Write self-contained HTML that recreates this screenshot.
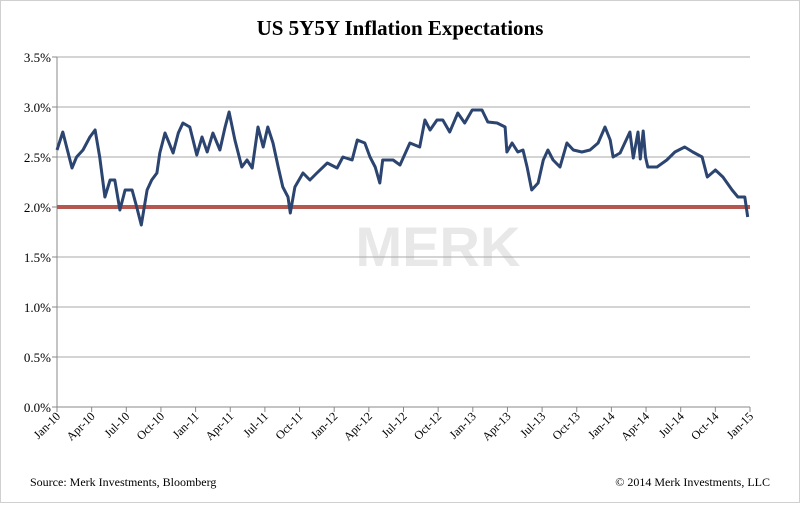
<!DOCTYPE html>
<html><head><meta charset="utf-8"><style>
body{margin:0;background:#fff}
svg text{font-family:"Liberation Serif",serif}
</style></head><body>
<svg width="800" height="503" xmlns="http://www.w3.org/2000/svg">
<rect x="0.5" y="0.5" width="799" height="502" fill="#fff" stroke="#d0d0d0"/>
<text x="400" y="35" text-anchor="middle" font-size="21" font-weight="bold">US 5Y5Y Inflation Expectations</text>
<text x="438" y="266" text-anchor="middle" font-size="56" font-weight="bold" fill="#e8e8e8" style="font-family:'Liberation Sans',sans-serif">MERK</text>
<g id="grid"></g>
<g id="yaxis"></g>
<g id="xaxis"></g>
<line id="ref" stroke="#b5574f" stroke-width="4"/>
<path id="series" fill="none" stroke="#2b4470" stroke-width="3" stroke-linejoin="round"/>
<text x="30" y="486" font-size="12">Source: Merk Investments, Bloomberg</text>
<text x="770" y="486" text-anchor="end" font-size="12">© 2014 Merk Investments, LLC</text>
</svg>
<script>
const yTicks=[0,0.5,1,1.5,2,2.5,3,3.5];
const xLabels=["Jan-10","Apr-10","Jul-10","Oct-10","Jan-11","Apr-11","Jul-11","Oct-11","Jan-12","Apr-12","Jul-12","Oct-12","Jan-13","Apr-13","Jul-13","Oct-13","Jan-14","Apr-14","Jul-14","Oct-14","Jan-15"];
const months=[0,0.5,0.9,1.3,1.7,2.25,2.85,3.3,3.7,4.15,4.6,5.0,5.45,5.9,6.5,6.9,7.3,7.8,8.2,8.65,8.9,9.35,9.6,10.05,10.5,10.9,11.5,12.1,12.55,13.0,13.5,14.1,14.55,14.9,15.4,16.0,16.45,16.9,17.4,17.85,18.25,18.7,19.15,19.55,20.0,20.2,20.6,21.3,21.9,22.5,23.4,24.25,24.75,25.55,26.0,26.65,27.1,27.55,27.95,28.2,29.1,29.7,30.55,31.4,31.85,32.3,32.9,33.4,34.0,34.7,35.3,35.95,36.8,37.3,38.1,38.8,38.95,39.4,39.9,40.35,40.7,41.1,41.65,42.1,42.5,42.95,43.55,44.15,44.7,45.45,46.15,46.85,47.45,47.9,48.15,48.75,49.6,49.9,50.3,50.5,50.75,50.95,51.15,51.95,52.8,53.5,54.35,55.05,55.85,56.3,57.0,57.65,58.45,58.95,59.55,59.8];
const values=[2.57,2.75,2.57,2.39,2.5,2.57,2.70,2.77,2.5,2.10,2.27,2.27,1.97,2.17,2.17,2.0,1.82,2.17,2.27,2.34,2.54,2.74,2.67,2.54,2.74,2.84,2.80,2.52,2.70,2.55,2.74,2.57,2.80,2.95,2.67,2.40,2.47,2.39,2.80,2.60,2.80,2.64,2.40,2.20,2.10,1.94,2.20,2.34,2.27,2.34,2.44,2.39,2.50,2.47,2.67,2.64,2.5,2.40,2.24,2.47,2.47,2.42,2.64,2.60,2.87,2.77,2.87,2.87,2.75,2.94,2.84,2.97,2.97,2.85,2.84,2.80,2.55,2.64,2.55,2.57,2.40,2.17,2.24,2.47,2.57,2.47,2.40,2.64,2.57,2.55,2.57,2.64,2.80,2.67,2.50,2.54,2.75,2.49,2.75,2.48,2.76,2.50,2.40,2.40,2.47,2.55,2.60,2.55,2.50,2.30,2.37,2.30,2.17,2.10,2.10,1.90];
const refValue=2.0;
const X0=57,X1=750,Y0=407,Y1=57,MMAX=60,VMAX=3.5;
const xs=m=>X0+(X1-X0)*m/MMAX;
const ys=v=>Y0-(Y0-Y1)*v/VMAX;
const NS="http://www.w3.org/2000/svg";
function mk(t,a,p){const e=document.createElementNS(NS,t);for(const k in a)e.setAttribute(k,a[k]);p.appendChild(e);return e;}
const grid=document.getElementById('grid'),ya=document.getElementById('yaxis'),xa=document.getElementById('xaxis');
yTicks.forEach(v=>{
  if(v>0){const g=mk('line',{x1:X0,x2:X1,y1:ys(v),y2:ys(v),stroke:'#a8a8a8','stroke-width':1},grid);
  
  }
  const tk=mk('line',{x1:X0-5,x2:X0,y1:ys(v),y2:ys(v),stroke:'#888'},ya);
  
  
  const t=mk('text',{x:X0-6,y:ys(v)+5,'text-anchor':'end','font-size':13},ya);
  t.textContent=v.toFixed(1)+'%';
  
  
});
const yl=mk('line',{x1:X0,x2:X0,y1:Y1,y2:Y0,stroke:'#888'},ya);


const xl=mk('line',{x1:X0,x2:X1,y1:Y0,y2:Y0,stroke:'#888'},xa);


xLabels.forEach((l,i)=>{
  const x=xs(i*3);
  const tk=mk('line',{x1:x,x2:x,y1:Y0,y2:Y0+5,stroke:'#888'},xa);
  
  
  const t=mk('text',{x:x+4,y:Y0+10,'text-anchor':'end','font-size':12,transform:`rotate(-45 ${x+4} ${Y0+10})`},xa);
  t.textContent=l;
  
  
});
const r=document.getElementById('ref');
r.setAttribute('x1',X0);r.setAttribute('x2',X1);r.setAttribute('y1',ys(refValue));r.setAttribute('y2',ys(refValue));
document.getElementById('series').setAttribute('d',months.map((m,i)=>(i?'L':'M')+xs(m).toFixed(1)+','+ys(values[i]).toFixed(1)).join(''));
</script>
</body></html>
